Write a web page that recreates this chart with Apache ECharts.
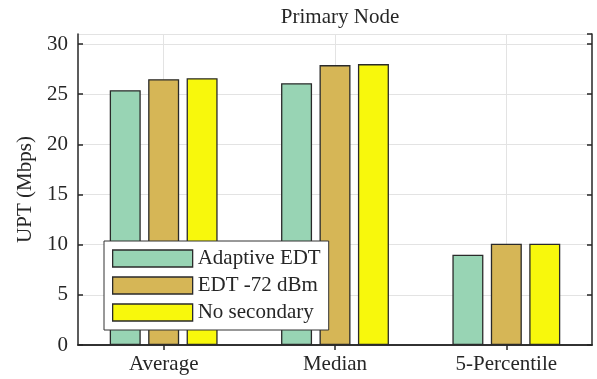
<!DOCTYPE html>
<html>
<head>
<meta charset="utf-8">
<script src="https://cdn.jsdelivr.net/npm/echarts@6/dist/echarts.min.js"></script>
<style>
  html, body { margin: 0; padding: 0; background: #fff; }
  #main { width: 597px; height: 379px; }
</style>
</head>
<body>
<div id="main"></div>
<script>
// 数据
var categories = ['Average', 'Median', '5-Percentile'];
var seriesNames = ['Adaptive EDT', 'EDT -72 dBm', 'No secondary'];
var adaptiveEdt = [25.4, 26.1, 9.0];
var edt72 = [26.5, 27.9, 10.1];
var noSecondary = [26.6, 28.0, 10.1];
var colors = ['#98d4b4', '#d6b656', '#f8f80c'];

// 顶部辅助轴：7个点，奇数位置对应类别中心
var helperTicks = ['', 'a', '', 'b', '', 'c', ''];

var font = 'Liberation Serif';
var ink = '#262626';

var chart = echarts.init(document.getElementById('main'));

function bar(name, data, color) {
  return {
    name: name,
    type: 'bar',
    data: data,
    barWidth: 31,
    barGap: '24%',
    itemStyle: { color: color, borderColor: '#2a2a2a', borderWidth: 1.3 }
  };
}

var option = {
  animation: false,
  textStyle: { fontFamily: font, color: ink },
  title: {
    text: 'Primary Node',
    left: 335,
    top: 2,
    textAlign: 'center',
    textStyle: { fontFamily: font, fontSize: 21, fontWeight: 'normal', color: ink }
  },
  grid: { left: 78, top: 34, right: 5, bottom: 34 },
  legend: {
    orient: 'vertical',
    left: 104,
    top: 241,
    padding: [7, 8, 7, 8],
    icon: 'rect',
    itemWidth: 80,
    itemHeight: 17,
    itemGap: 6,
    backgroundColor: '#fff',
    borderColor: '#333',
    borderWidth: 1,
    borderRadius: 0,
    itemStyle: { borderColor: '#2a2a2a', borderWidth: 1.3 },
    textStyle: { fontFamily: font, fontSize: 21, color: ink, lineHeight: 17 },
    data: seriesNames
  },
  xAxis: [
    {
      type: 'category',
      data: categories,
      position: 'bottom',
      axisLine: { lineStyle: { color: ink, width: 1.5 } },
      axisTick: { inside: true, alignWithLabel: true, length: 5, lineStyle: { color: ink, width: 1.5 } },
      axisLabel: { fontFamily: font, fontSize: 21, color: ink, margin: 9 },
      splitLine: { show: false }
    },
    {
      type: 'category',
      data: helperTicks,
      position: 'top',
      boundaryGap: false,
      axisLine: { lineStyle: { color: ink, width: 1.5 } },
      axisTick: {
        inside: true, length: 5,
        interval: function (i) { return i % 2 === 1; },
        lineStyle: { color: ink, width: 1.5 }
      },
      axisLabel: { show: false },
      splitLine: {
        show: true,
        interval: function (i) { return i % 2 === 1; },
        lineStyle: { color: '#e3e3e3', width: 1 }
      }
    }
  ],
  yAxis: [
    {
      type: 'value',
      min: 0,
      max: 31,
      interval: 5,
      name: 'UPT (Mbps)',
      nameLocation: 'middle',
      nameGap: 40,
      nameTextStyle: { fontFamily: font, fontSize: 21, color: ink },
      axisLine: { show: true, lineStyle: { color: ink, width: 1.5 } },
      axisTick: { show: true, inside: true, length: 5, lineStyle: { color: ink, width: 1.5 } },
      axisLabel: { fontFamily: font, fontSize: 21, color: ink, margin: 10, showMaxLabel: false },
      splitLine: { show: true, lineStyle: { color: '#e3e3e3', width: 1 } }
    },
    {
      type: 'value',
      min: 0,
      max: 31,
      interval: 5,
      position: 'right',
      axisLine: { show: true, lineStyle: { color: ink, width: 1.5 } },
      axisTick: { show: true, inside: true, length: 5, lineStyle: { color: ink, width: 1.5 } },
      axisLabel: { show: false },
      splitLine: { show: false }
    }
  ],
  series: [
    bar(seriesNames[0], adaptiveEdt, colors[0]),
    bar(seriesNames[1], edt72, colors[1]),
    bar(seriesNames[2], noSecondary, colors[2])
  ]
};

chart.setOption(option);
</script>
</body>
</html>
